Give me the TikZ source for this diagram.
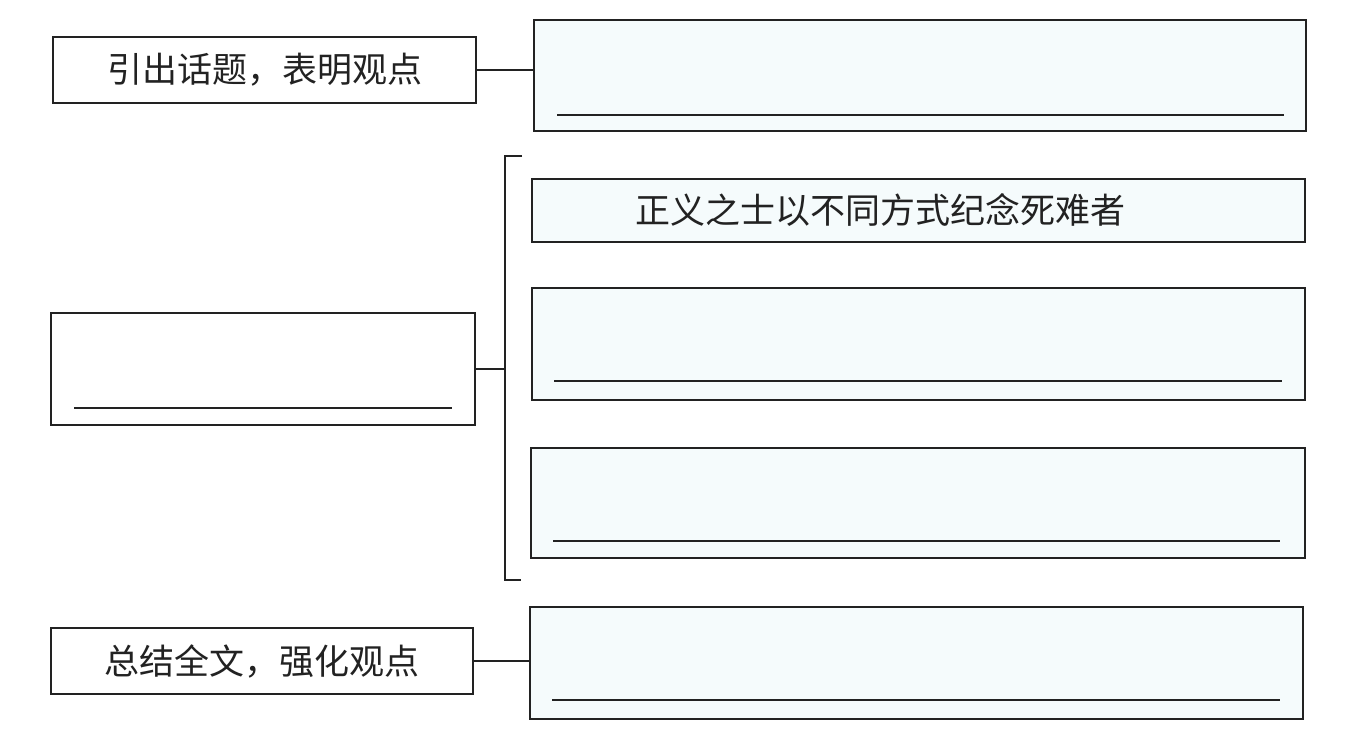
\documentclass[tikz,border=0pt]{standalone}
\usepackage{fontspec}
\newfontfamily\cjk{Noto Sans CJK SC}
\usetikzlibrary{calc}
\definecolor{tintc}{HTML}{F5FBFC}
\definecolor{inkc}{HTML}{222222}
\begin{document}
\begin{tikzpicture}[x=1pt,y=-1pt,
  box/.style={draw=inkc, line width=2pt, inner sep=0pt, anchor=north west},
  leftbox/.style={box, fill=white},
  rightbox/.style={box, fill=tintc},
  conn/.style={draw=inkc, line width=2pt},
  blank/.style={draw=inkc, line width=2pt},
  lbl/.style={font=\cjk\fontsize{35}{40}\selectfont, text=inkc, inner sep=0pt}]
\useasboundingbox (0,0) rectangle (1357,734);
\fill[white] (0,0) rectangle (1357,734);

% left boxes
\node[leftbox, minimum width=423pt, minimum height=66pt] (A) at (52,36) {};
\node[leftbox, minimum width=424pt, minimum height=112pt] (C) at (50,312) {};
\node[leftbox, minimum width=422pt, minimum height=66pt] (G) at (50,627) {};

% right boxes
\node[rightbox, minimum width=772pt, minimum height=111pt] (B) at (533,19) {};
\node[rightbox, minimum width=773pt, minimum height=63pt] (D) at (531,178) {};
\node[rightbox, minimum width=773pt, minimum height=112pt] (E) at (531,287) {};
\node[rightbox, minimum width=774pt, minimum height=110pt] (F) at (530,447) {};
\node[rightbox, minimum width=773pt, minimum height=112pt] (H) at (529,606) {};

% labels
\node[lbl] (tA) at (A.center) {引出话题，表明观点};
\node[lbl] (tG) at (G.center) {总结全文，强化观点};
\node[lbl] (tD) at (880,210) {正义之士以不同方式纪念死难者};

% answer lines
\draw[blank] ($(B.south west)+(24,-17)$) -- ($(B.south east)+(-23,-17)$);
\draw[blank] ($(C.south west)+(24,-18)$) -- ($(C.south east)+(-24,-18)$);
\draw[blank] ($(E.south west)+(23,-20)$) -- ($(E.south east)+(-24,-20)$);
\draw[blank] ($(F.south west)+(23,-18)$) -- ($(F.south east)+(-26,-18)$);
\draw[blank] ($(H.south west)+(23,-20)$) -- ($(H.south east)+(-24,-20)$);

% bracket
\coordinate (bT) at (505,156);
\coordinate (bB) at (505,580);
\coordinate (bTe) at (522,156);
\coordinate (bBe) at (521,580);
\draw[conn] (bTe) -- (bT) -- (bB) -- (bBe);

% connectors
\draw[conn] (A.east) -- (A.east -| B.west);
\draw[conn] (C.east) -- (C.east -| bT);
\draw[conn] (G.east) -- (G.east -| H.west);
\end{tikzpicture}
\end{document}
